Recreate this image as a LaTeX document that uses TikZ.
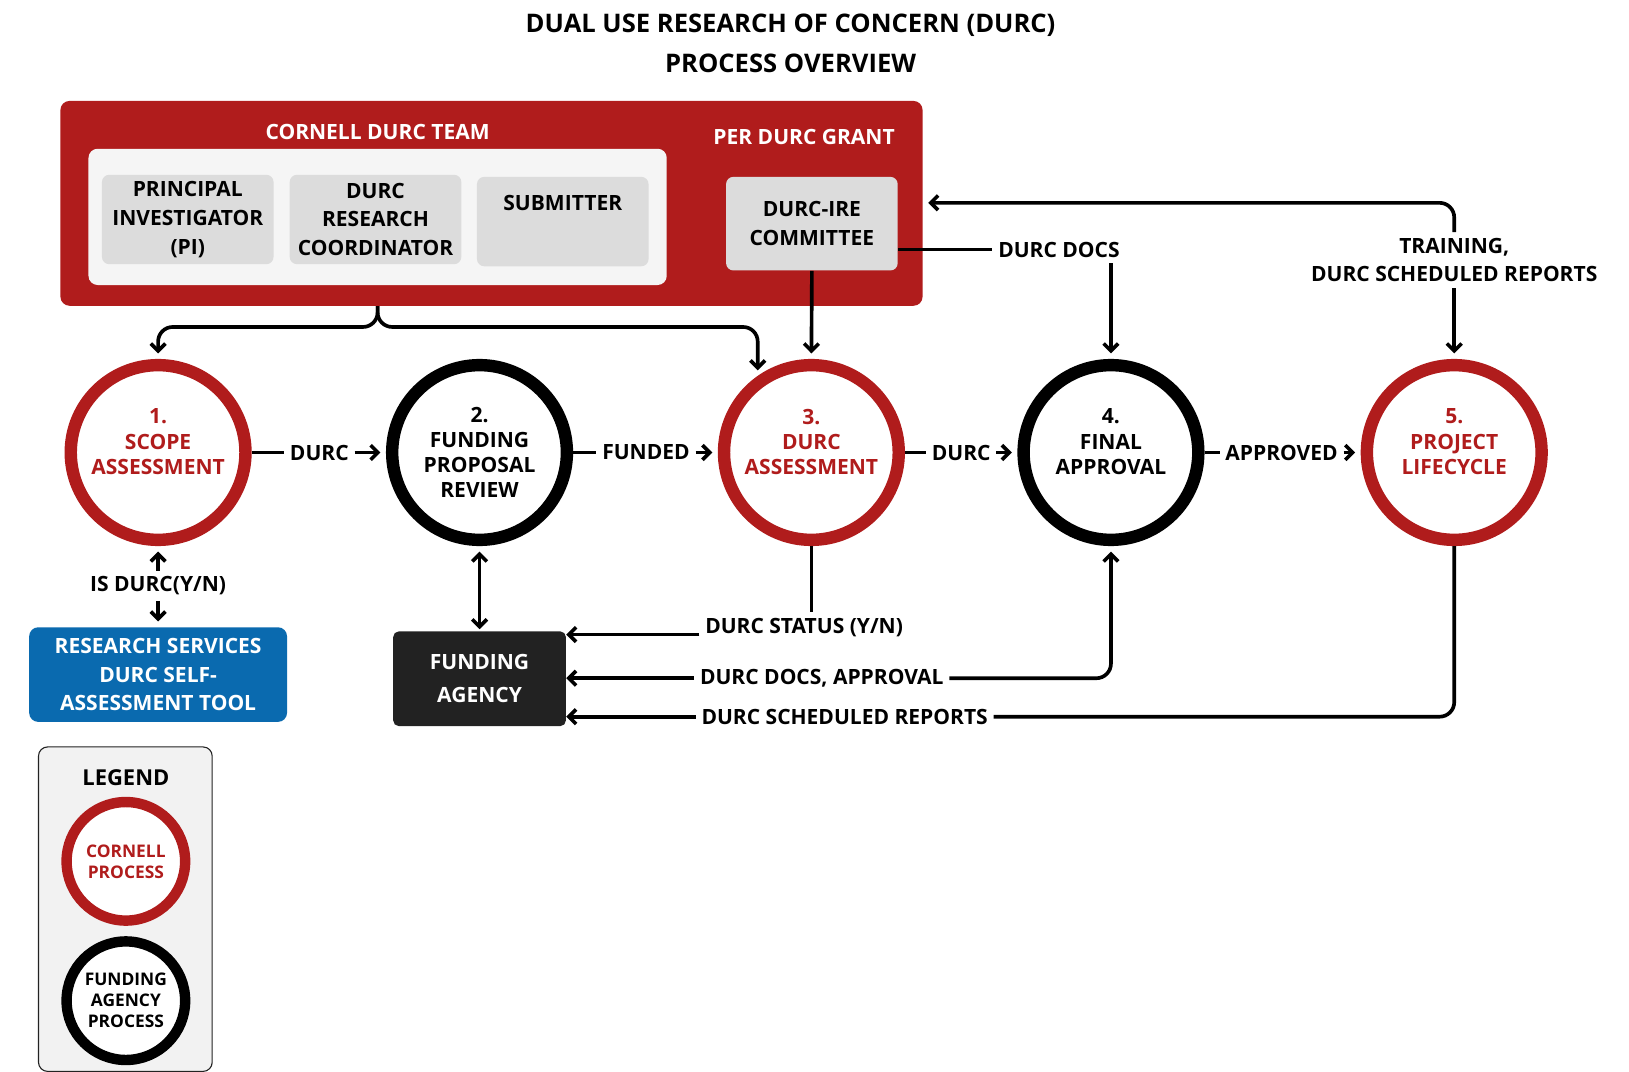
\documentclass[tikz,border=0pt]{standalone}
\usepackage{fontspec}
\setmainfont{Open Sans}
\usetikzlibrary{arrows.meta,positioning}
\definecolor{durcred}{HTML}{B01C1C}
\definecolor{boxgray}{HTML}{DCDCDC}
\definecolor{rsblue}{HTML}{0A6AAF}
\definecolor{agencyblack}{HTML}{222222}
\tikzset{
  txt/.style={font=\bfseries\fontsize{11.5}{13.8}\selectfont, align=center, inner sep=2pt},
  phase/.style={txt, circle, minimum size=3.36cm, line width=6.8pt, fill=white},
  cornell/.style={phase, draw=durcred, text=durcred},
  agencyphase/.style={phase, draw=black},
  member/.style={txt, rounded corners=4pt, fill=boxgray, minimum width=3.3cm, minimum height=1.72cm},
  lbl/.style={txt, fill=white, inner sep=3pt},
  line/.style={line width=2pt, rounded corners=8pt},
  arr/.style={line, -{Straight Barb[length=4pt,width=8pt]}, shorten >=3pt},
}
\begin{document}
\begin{tikzpicture}[x=0.02cm,y=-0.02cm]
\useasboundingbox (0,0) rectangle (1566,1030);
% title
\node[txt, font=\bfseries\fontsize{14}{18}\selectfont] (title) at (760,42) {DUAL USE RESEARCH OF CONCERN (DURC)\\[4pt]PROCESS OVERVIEW};

% cornell team box
\node[fill=durcred, rounded corners=5pt, minimum width=16.58cm, minimum height=3.94cm] (red) at (472.5,195.5) {};
\node[txt, text=white] (teamlbl) at (363,127) {CORNELL DURC TEAM};
\node[fill=white!96!black, rounded corners=5pt, minimum width=11.12cm, minimum height=2.62cm] (team) at (363,208.5) {};
\node[member] (pi) at (180.5,211) {PRINCIPAL\\[2pt]INVESTIGATOR\\[2pt](PI)};
\node[member] (coord) at (361,211) {DURC\\[2pt]RESEARCH\\[2pt]COORDINATOR};
\node[member] (sub) at (541,213) {SUBMITTER\\[2pt]\strut};
\node[txt, text=white] (grantlbl) at (773,132) {PER DURC GRANT};
\node[member, minimum height=1.8cm] (com) at (780.5,215) {DURC-IRE\\[2pt]COMMITTEE};

% process steps
\node[cornell] (c1) at (152,435) {1.\\SCOPE\\ASSESSMENT\\[-2pt]\phantom{X}};
\node[agencyphase] (c2) at (461,435) {2.\\FUNDING\\PROPOSAL\\REVIEW};
\node[cornell] (c3) at (780,435) {3.\\DURC\\ASSESSMENT\\[-2pt]\phantom{X}};
\node[agencyphase] (c4) at (1068,435) {4.\\FINAL\\APPROVAL\\[-2pt]\phantom{X}};
\node[cornell] (c5) at (1398,435) {5.\\PROJECT\\LIFECYCLE\\[-2pt]\phantom{X}};

\node[lbl] (d1) at (307,435) {DURC};
\node[lbl] (fund) at (621,435) {FUNDED};
\node[lbl] (d2) at (924,435) {DURC};
\node[lbl] (ok) at (1232,435) {APPROVED};
\draw[line] (c1) -- (d1); \draw[arr] (d1) -- (c2);
\draw[line] (c2) -- (fund); \draw[arr] (fund) -- (c3);
\draw[line] (c3) -- (d2); \draw[arr] (d2) -- (c4);
\draw[line] (c4) -- (ok); \draw[arr] (ok) -- (c5);

% team and committee inputs
\draw[arr] (team.south |- red.south) -- ++(0,20) -| (c1.north);
\draw[arr] (team.south |- red.south) -- ++(0,20) -| (c3.125);
\draw[arr] (com.south) -- (c3.north);
\node[lbl] (docs) at (1018,240) {DURC DOCS};
\draw[line] (com.east |- docs.west) -- (docs.west);
\draw[arr] (docs.south -| c4) -- (c4.north);
\node[lbl] (train) at (1398,250) {TRAINING,\\[2pt]DURC SCHEDULED REPORTS};
\coordinate (redin) at (887,195);
\draw[arr] (train.north) |- (redin);
\draw[arr] (train.south) -- (c5.north);

% self assessment
\node[txt, text=white, fill=rsblue, rounded corners=5pt, minimum width=4.96cm, minimum height=1.82cm] (rs) at (152,648.5) {RESEARCH SERVICES\\[2pt]DURC SELF-\\[2pt]ASSESSMENT TOOL};
\node[lbl] (isd) at (152,563) {IS DURC(Y/N)};
\draw[arr] (isd) -- (c1.south);
\draw[arr] (isd) -- (rs.north);

% funding agency
\node[txt, text=white, fill=agencyblack, rounded corners=3pt, minimum width=3.32cm, minimum height=1.82cm] (agency) at (461,652.5) {FUNDING\\[4pt]AGENCY};
\draw[line, {Straight Barb[length=4pt,width=8pt]}-{Straight Barb[length=4pt,width=8pt]}, shorten <=3pt, shorten >=1pt] (c2.south) -- (agency.north);
\node[lbl] (status) at (773,603) {DURC STATUS (Y/N)};
\draw[line] (c3.south) -- (c3.south |- status.north);
\draw[arr, shorten >=0pt] (status.west |- 0,610) -- (agency.east |- 0,610);
\node[lbl] (appr) at (790,652) {DURC DOCS, APPROVAL};
\draw[arr] (appr.east) -| (c4.south);
\draw[arr, shorten >=0pt] (appr.west) -- (appr.west -| agency.east);
\node[lbl] (rep) at (812,689) {DURC SCHEDULED REPORTS};
\draw[line] (c5.south) |- (rep.east);
\draw[arr, shorten >=0pt] (rep.west) -- (rep.west -| agency.east);

% legend
\node[draw=agencyblack, line width=0.6pt, fill=white!95!black, rounded corners=5pt, minimum width=3.34cm, minimum height=6.24cm] (legend) at (120.5,874) {};
\node[txt, font=\bfseries\fontsize{12}{14}\selectfont] (leglbl) at (121,748) {LEGEND};
\node[cornell, minimum size=2.28cm, line width=5.7pt, font=\bfseries\fontsize{9.5}{11.5}\selectfont] (lc) at (121,828) {CORNELL\\PROCESS};
\node[agencyphase, minimum size=2.28cm, line width=5.7pt, font=\bfseries\fontsize{9.5}{11.5}\selectfont] (la) at (121,962) {FUNDING\\AGENCY\\PROCESS};
\end{tikzpicture}
\end{document}
